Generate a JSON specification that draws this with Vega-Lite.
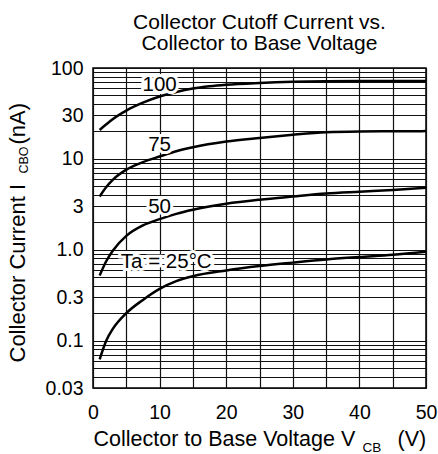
{
  "$schema": "https://vega.github.io/schema/vega-lite/v6.json",
  "width": 333,
  "height": 320,
  "autosize": "none",
  "padding": {"left": 93, "top": 68, "right": 12, "bottom": 66},
  "background": "white",
  "config": {
    "font": "Liberation Sans",
    "view": {"stroke": "black", "strokeWidth": 1.5},
    "axis": {
      "labelColor": "black",
      "titleColor": "black",
      "titleFontWeight": "normal",
      "labelOverlap": false,
      "labelBound": false,
      "labelFlush": false
    }
  },
  "title": {
    "text": ["Collector Cutoff Current vs.", "Collector to Base Voltage"],
    "fontSize": 21,
    "fontWeight": "normal",
    "color": "black",
    "anchor": "middle",
    "lineHeight": 21,
    "baseline": "bottom",
    "offset": 14,
    "dy": 31
  },
  "datasets": {
    "curves": [
      {"ta": "100", "vcb": 1, "icbo": 20.8},
      {"ta": "100", "vcb": 2, "icbo": 24},
      {"ta": "100", "vcb": 3, "icbo": 27.5},
      {"ta": "100", "vcb": 5, "icbo": 34},
      {"ta": "100", "vcb": 7.5, "icbo": 41.5},
      {"ta": "100", "vcb": 10, "icbo": 48.5},
      {"ta": "100", "vcb": 12.5, "icbo": 54.5},
      {"ta": "100", "vcb": 15, "icbo": 59.5},
      {"ta": "100", "vcb": 17.5, "icbo": 63},
      {"ta": "100", "vcb": 20, "icbo": 65.5},
      {"ta": "100", "vcb": 25, "icbo": 68.5},
      {"ta": "100", "vcb": 30, "icbo": 70.5},
      {"ta": "100", "vcb": 35, "icbo": 71.5},
      {"ta": "100", "vcb": 40, "icbo": 72},
      {"ta": "100", "vcb": 45, "icbo": 72},
      {"ta": "100", "vcb": 50, "icbo": 72},
      {"ta": "75", "vcb": 1, "icbo": 3.85},
      {"ta": "75", "vcb": 2, "icbo": 4.9},
      {"ta": "75", "vcb": 3, "icbo": 5.9},
      {"ta": "75", "vcb": 5, "icbo": 7.6},
      {"ta": "75", "vcb": 7.5, "icbo": 9.2},
      {"ta": "75", "vcb": 10, "icbo": 10.6},
      {"ta": "75", "vcb": 12.5, "icbo": 12.1},
      {"ta": "75", "vcb": 15, "icbo": 13.4},
      {"ta": "75", "vcb": 20, "icbo": 15.5},
      {"ta": "75", "vcb": 25, "icbo": 17},
      {"ta": "75", "vcb": 30, "icbo": 18.4},
      {"ta": "75", "vcb": 35, "icbo": 19.6},
      {"ta": "75", "vcb": 40, "icbo": 20},
      {"ta": "75", "vcb": 45, "icbo": 20.1},
      {"ta": "75", "vcb": 50, "icbo": 20.2},
      {"ta": "50", "vcb": 1, "icbo": 0.52},
      {"ta": "50", "vcb": 2, "icbo": 0.75},
      {"ta": "50", "vcb": 3, "icbo": 0.98},
      {"ta": "50", "vcb": 5, "icbo": 1.42},
      {"ta": "50", "vcb": 7.5, "icbo": 1.85},
      {"ta": "50", "vcb": 10, "icbo": 2.17},
      {"ta": "50", "vcb": 12.5, "icbo": 2.48},
      {"ta": "50", "vcb": 15, "icbo": 2.75},
      {"ta": "50", "vcb": 20, "icbo": 3.2},
      {"ta": "50", "vcb": 25, "icbo": 3.55},
      {"ta": "50", "vcb": 30, "icbo": 3.85},
      {"ta": "50", "vcb": 35, "icbo": 4.15},
      {"ta": "50", "vcb": 40, "icbo": 4.35},
      {"ta": "50", "vcb": 45, "icbo": 4.55},
      {"ta": "50", "vcb": 50, "icbo": 4.8},
      {"ta": "25", "vcb": 1, "icbo": 0.062},
      {"ta": "25", "vcb": 2, "icbo": 0.1},
      {"ta": "25", "vcb": 3, "icbo": 0.135},
      {"ta": "25", "vcb": 5, "icbo": 0.2},
      {"ta": "25", "vcb": 7.5, "icbo": 0.28},
      {"ta": "25", "vcb": 10, "icbo": 0.37},
      {"ta": "25", "vcb": 12.5, "icbo": 0.45},
      {"ta": "25", "vcb": 15, "icbo": 0.51},
      {"ta": "25", "vcb": 20, "icbo": 0.59},
      {"ta": "25", "vcb": 25, "icbo": 0.66},
      {"ta": "25", "vcb": 30, "icbo": 0.72},
      {"ta": "25", "vcb": 35, "icbo": 0.78},
      {"ta": "25", "vcb": 40, "icbo": 0.83},
      {"ta": "25", "vcb": 45, "icbo": 0.88},
      {"ta": "25", "vcb": 50, "icbo": 0.95}
    ],
    "labels": [
      {"text": "100", "vcb": 10, "icbo": 65},
      {"text": "75", "vcb": 10, "icbo": 14.3},
      {"text": "50", "vcb": 10, "icbo": 2.97},
      {"text": "Ta = 25°C", "vcb": 11, "icbo": 0.74}
    ]
  },
  "resolve": {"axis": {"x": "independent", "y": "independent"}},
  "layer": [
    {
      "data": {"name": "curves"},
      "mark": {"type": "line", "color": "black", "strokeWidth": 2.5, "interpolate": "monotone"},
      "encoding": {
        "x": {
          "field": "vcb",
          "type": "quantitative",
          "scale": {"domain": [0, 50], "nice": false, "zero": false},
          "axis": {
            "orient": "bottom",
            "values": [0, 5, 10, 15, 20, 25, 30, 35, 40, 45, 50],
            "labelExpr": "datum.value % 10 == 0 ? '' + datum.value : ''",
            "ticks": false,
            "domain": false,
            "grid": true,
            "gridColor": "#111111",
            "gridWidth": 1.2,
            "gridOpacity": 1,
            "labelFontSize": 19.5,
            "labelPadding": 15,
            "title": "Collector to Base Voltage  V",
            "titleFontSize": 21.5,
            "titleX": 0,
            "titleY": 57,
            "titleAlign": "left",
            "titleBaseline": "alphabetic"
          }
        },
        "y": {
          "field": "icbo",
          "type": "quantitative",
          "scale": {"type": "log", "domain": [0.03, 100], "nice": false},
          "axis": {
            "orient": "left",
            "values": [0.03, 0.04, 0.05, 0.06, 0.07, 0.08, 0.09, 0.1, 0.2, 0.3, 0.4, 0.5, 0.6, 0.7, 0.8, 0.9, 1, 2, 3, 4, 5, 6, 7, 8, 9, 10, 20, 30, 40, 50, 60, 70, 80, 90, 100],
            "labelExpr": "indexof([0.03, 0.1, 0.3, 1, 3, 10, 30, 100], datum.value) >= 0 ? (datum.value == 1 ? '1.0' : '' + datum.value) : ''",
            "ticks": false,
            "domain": false,
            "grid": true,
            "gridColor": "#111111",
            "gridWidth": 1,
            "gridOpacity": 1,
            "labelFontSize": 19.5,
            "labelPadding": 10,
            "title": "Collector Current I",
            "titleFontSize": 22,
            "titleX": -69,
            "titleY": 294,
            "titleAngle": 270,
            "titleAlign": "left",
            "titleBaseline": "alphabetic"
          }
        },
        "detail": {"field": "ta", "type": "nominal"}
      }
    },
    {
      "data": {"name": "labels"},
      "mark": {"type": "text", "color": "white", "stroke": "white", "strokeWidth": 6, "fontSize": 20.5, "align": "center", "baseline": "middle"},
      "encoding": {
        "x": {
          "field": "vcb",
          "type": "quantitative",
          "axis": {
            "orient": "bottom",
            "labels": false,
            "ticks": false,
            "domain": false,
            "grid": false,
            "title": "CB",
            "titleFontSize": 13.5,
            "titleX": 269,
            "titleY": 63,
            "titleAlign": "left",
            "titleBaseline": "alphabetic"
          }
        },
        "y": {
          "field": "icbo",
          "type": "quantitative",
          "axis": {
            "orient": "left",
            "labels": false,
            "ticks": false,
            "domain": false,
            "grid": false,
            "title": "CBO",
            "titleFontSize": 12.5,
            "titleX": -66,
            "titleY": 105,
            "titleAngle": 270,
            "titleAlign": "left",
            "titleBaseline": "alphabetic"
          }
        },
        "text": {"field": "text"}
      }
    },
    {
      "data": {"name": "labels"},
      "mark": {"type": "text", "color": "black", "fontSize": 20.5, "align": "center", "baseline": "middle"},
      "encoding": {
        "x": {
          "field": "vcb",
          "type": "quantitative",
          "axis": {
            "orient": "bottom",
            "labels": false,
            "ticks": false,
            "domain": false,
            "grid": false,
            "title": "(V)",
            "titleFontSize": 21.5,
            "titleX": 304,
            "titleY": 57,
            "titleAlign": "left",
            "titleBaseline": "alphabetic"
          }
        },
        "y": {
          "field": "icbo",
          "type": "quantitative",
          "axis": {
            "orient": "left",
            "labels": false,
            "ticks": false,
            "domain": false,
            "grid": false,
            "title": "(nA)",
            "titleFontSize": 22,
            "titleX": -69,
            "titleY": 76,
            "titleAngle": 270,
            "titleAlign": "left",
            "titleBaseline": "alphabetic"
          }
        },
        "text": {"field": "text"}
      }
    }
  ]
}
